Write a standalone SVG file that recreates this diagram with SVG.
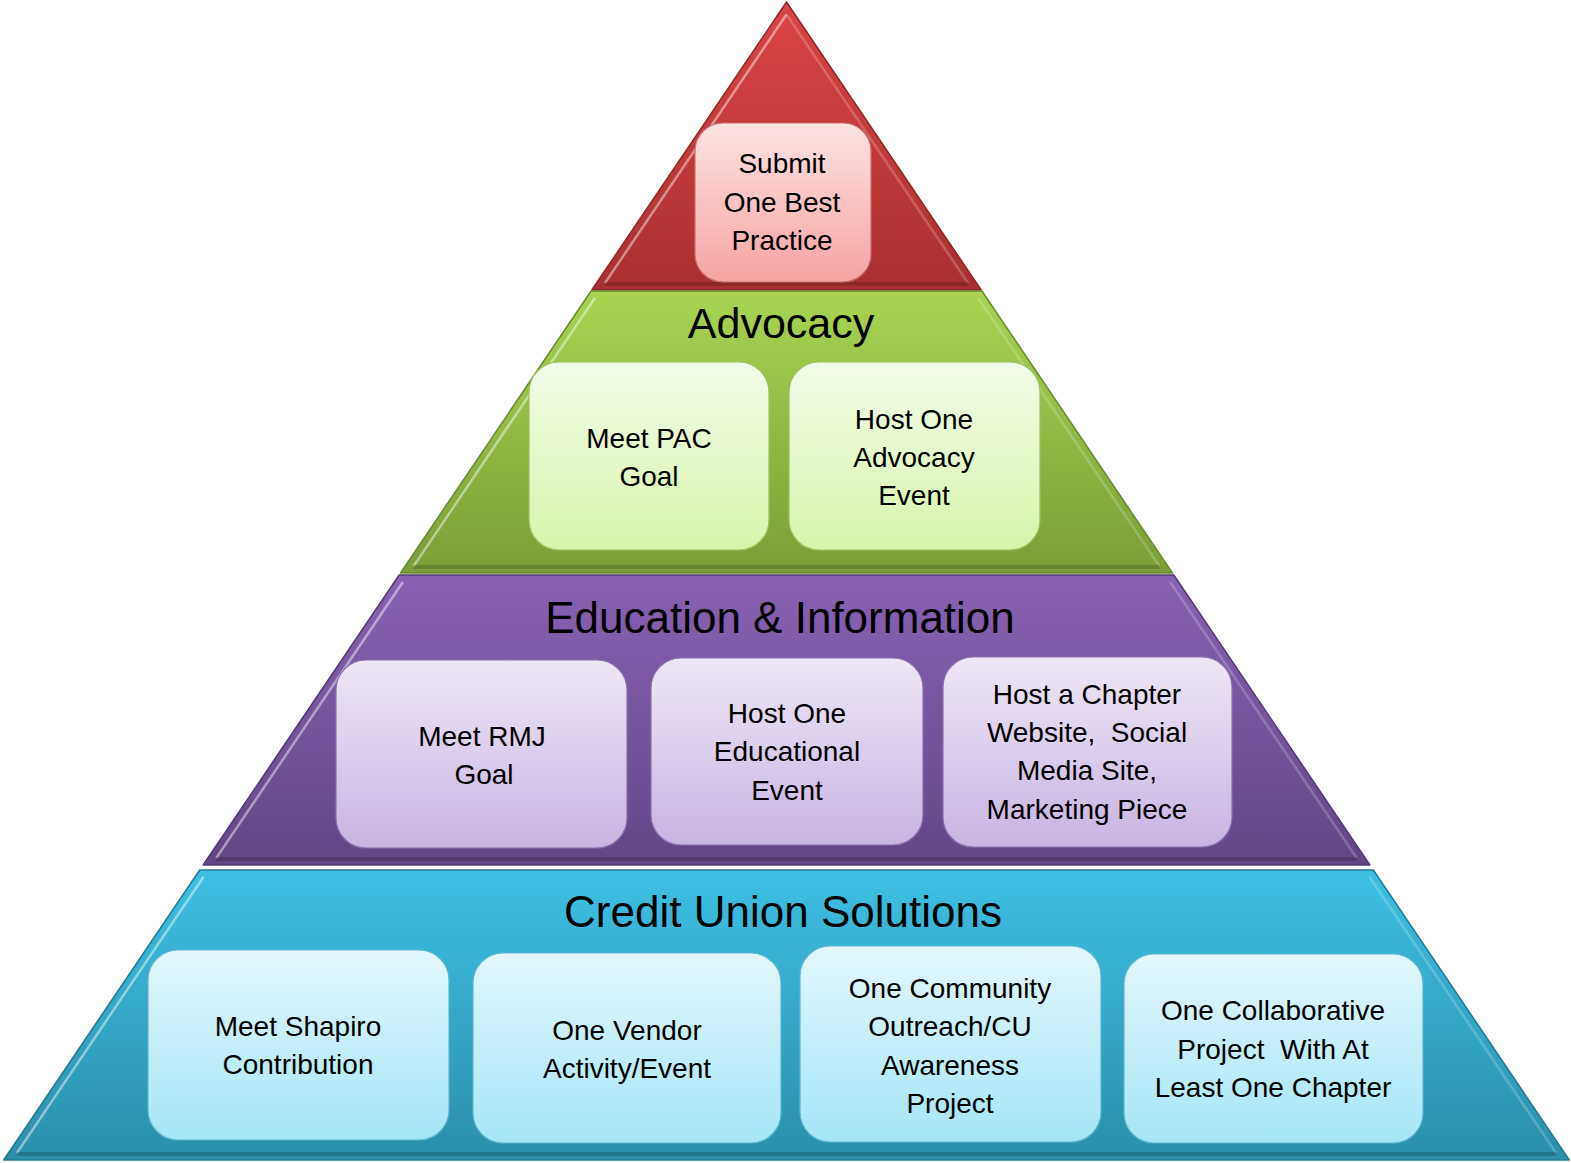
<svg xmlns="http://www.w3.org/2000/svg" width="1571" height="1163" viewBox="0 0 1571 1163">
<defs>
<linearGradient id="gRed" x1="0" y1="0" x2="0" y2="1"><stop offset="0" stop-color="#dc4444"/><stop offset="1" stop-color="#a83030"/></linearGradient>
<linearGradient id="gGreen" x1="0" y1="0" x2="0" y2="1"><stop offset="0" stop-color="#a8d452"/><stop offset="1" stop-color="#7b9e38"/></linearGradient>
<linearGradient id="gPurple" x1="0" y1="0" x2="0" y2="1"><stop offset="0" stop-color="#8862b4"/><stop offset="1" stop-color="#624687"/></linearGradient>
<linearGradient id="gBlue" x1="0" y1="0" x2="0" y2="1"><stop offset="0" stop-color="#3dc0e4"/><stop offset="1" stop-color="#2b8eab"/></linearGradient>
<linearGradient id="bRed" x1="0" y1="0" x2="0" y2="1"><stop offset="0" stop-color="#fde3e3"/><stop offset="1" stop-color="#f7a3a3"/></linearGradient>
<linearGradient id="bGreen" x1="0" y1="0" x2="0" y2="1"><stop offset="0" stop-color="#f2fbe8"/><stop offset="1" stop-color="#d8f5aa"/></linearGradient>
<linearGradient id="bPurple" x1="0" y1="0" x2="0" y2="1"><stop offset="0" stop-color="#eee7f6"/><stop offset="1" stop-color="#c8b4e2"/></linearGradient>
<linearGradient id="bBlue" x1="0" y1="0" x2="0" y2="1"><stop offset="0" stop-color="#e3f7fd"/><stop offset="1" stop-color="#a4e6f8"/></linearGradient>
</defs>
<style>
.tier{stroke-width:1.5;stroke-linejoin:round}
.bevL{fill:none;stroke:#ffffff;stroke-opacity:0.45;stroke-width:2.5}
.bevR{fill:none;stroke:#ffffff;stroke-opacity:0.2;stroke-width:2.5}
.bevB{fill:none;stroke:#000000;stroke-opacity:0.18;stroke-width:4}
.box{stroke-width:1.2}
.t{font-family:"Liberation Sans",Arial,sans-serif;font-size:28px;fill:#000;text-anchor:middle}
.h{font-family:"Liberation Sans",Arial,sans-serif;font-size:44px;fill:#000;text-anchor:middle}
</style>
<rect width="1571" height="1163" fill="#ffffff"/>

<g id="tier-red">
<polygon class="tier" points="786.5,2 981.2,290 591.8,290" fill="url(#gRed)" stroke="#8f2828"/>
<path class="bevL" d="M786.5,14.5 L605,283"/>
<path class="bevR" d="M786.5,14.5 L968,283"/>
<path class="bevB" d="M605,284 L968,284"/>
</g>
<g id="tier-green">
<polygon class="tier" points="591.1,291 981.9,291 1172.5,573 400.5,573" fill="url(#gGreen)" stroke="#6a8a2e"/>
<path class="bevL" d="M594.9,298 L413.7,566"/>
<path class="bevR" d="M978.1,298 L1159.3,566"/>
<path class="bevB" d="M413.7,567 L1159.3,567"/>
</g>
<g id="tier-purple">
<polygon class="tier" points="399.2,575 1173.8,575 1369.9,865 203.1,865" fill="url(#gPurple)" stroke="#533a75"/>
<path class="bevL" d="M402.9,582 L216.3,858" stroke-opacity="0.55"/>
<path class="bevR" d="M1170.1,582 L1356.7,858"/>
<path class="bevB" d="M216.3,859 L1356.7,859"/>
</g>
<g id="tier-blue">
<polygon class="tier" points="199.7,870 1373.3,870 1569.3,1160 3.7,1160" fill="url(#gBlue)" stroke="#237a94"/>
<path class="bevL" d="M203.5,877 L16.9,1153" stroke-opacity="0.55"/>
<path class="bevR" d="M1369.5,877 L1556.1,1153"/>
<path class="bevB" d="M16.9,1154 L1556.1,1154"/>
</g>

<g id="title-advocacy"><text class="h" x="781" y="338" style="font-size:43px">Advocacy</text></g>
<g id="title-education"><text class="h" x="780" y="633">Education &amp; Information</text></g>
<g id="title-cus"><text class="h" x="783" y="927">Credit Union Solutions</text></g>

<g id="box-best-practice">
<rect class="box" x="695" y="123" width="176" height="159" rx="28" fill="url(#bRed)" stroke="#c97070"/>
<text class="t" x="782" y="173">Submit</text>
<text class="t" x="782" y="212">One Best</text>
<text class="t" x="782" y="250">Practice</text>
</g>

<g id="box-pac">
<rect class="box" x="529" y="362" width="240" height="188" rx="30" fill="url(#bGreen)" stroke="#9cc060"/>
<text class="t" x="649" y="448">Meet PAC</text>
<text class="t" x="649" y="486">Goal</text>
</g>
<g id="box-advocacy-event">
<rect class="box" x="789" y="362" width="251" height="188" rx="30" fill="url(#bGreen)" stroke="#9cc060"/>
<text class="t" x="914" y="429">Host One</text>
<text class="t" x="914" y="467">Advocacy</text>
<text class="t" x="914" y="505">Event</text>
</g>

<g id="box-rmj">
<rect class="box" x="336" y="660" width="291" height="188" rx="30" fill="url(#bPurple)" stroke="#8a70ad"/>
<text class="t" x="482" y="746">Meet RMJ</text>
<text class="t" x="484" y="784">Goal</text>
</g>
<g id="box-edu-event">
<rect class="box" x="651" y="658" width="272" height="187" rx="30" fill="url(#bPurple)" stroke="#8a70ad"/>
<text class="t" x="787" y="723">Host One</text>
<text class="t" x="787" y="761">Educational</text>
<text class="t" x="787" y="800">Event</text>
</g>
<g id="box-chapter-site">
<rect class="box" x="943" y="657" width="289" height="190" rx="30" fill="url(#bPurple)" stroke="#8a70ad"/>
<text class="t" x="1087" y="704">Host a Chapter</text>
<text class="t" x="1087" y="742" xml:space="preserve">Website,  Social</text>
<text class="t" x="1087" y="780">Media Site,</text>
<text class="t" x="1087" y="819">Marketing Piece</text>
</g>

<g id="box-shapiro">
<rect class="box" x="148" y="950" width="301" height="190" rx="30" fill="url(#bBlue)" stroke="#5fb6cf"/>
<text class="t" x="298" y="1036">Meet Shapiro</text>
<text class="t" x="298" y="1074">Contribution</text>
</g>
<g id="box-vendor">
<rect class="box" x="473" y="953" width="308" height="190" rx="30" fill="url(#bBlue)" stroke="#5fb6cf"/>
<text class="t" x="627" y="1040">One Vendor</text>
<text class="t" x="627" y="1078">Activity/Event</text>
</g>
<g id="box-community">
<rect class="box" x="800" y="946" width="301" height="196" rx="30" fill="url(#bBlue)" stroke="#5fb6cf"/>
<text class="t" x="950" y="998">One Community</text>
<text class="t" x="950" y="1036">Outreach/CU</text>
<text class="t" x="950" y="1075">Awareness</text>
<text class="t" x="950" y="1113">Project</text>
</g>
<g id="box-collaborative">
<rect class="box" x="1124" y="954" width="299" height="189" rx="30" fill="url(#bBlue)" stroke="#5fb6cf"/>
<text class="t" x="1273" y="1020">One Collaborative</text>
<text class="t" x="1273" y="1059" xml:space="preserve">Project  With At</text>
<text class="t" x="1273" y="1097">Least One Chapter</text>
</g>
</svg>
